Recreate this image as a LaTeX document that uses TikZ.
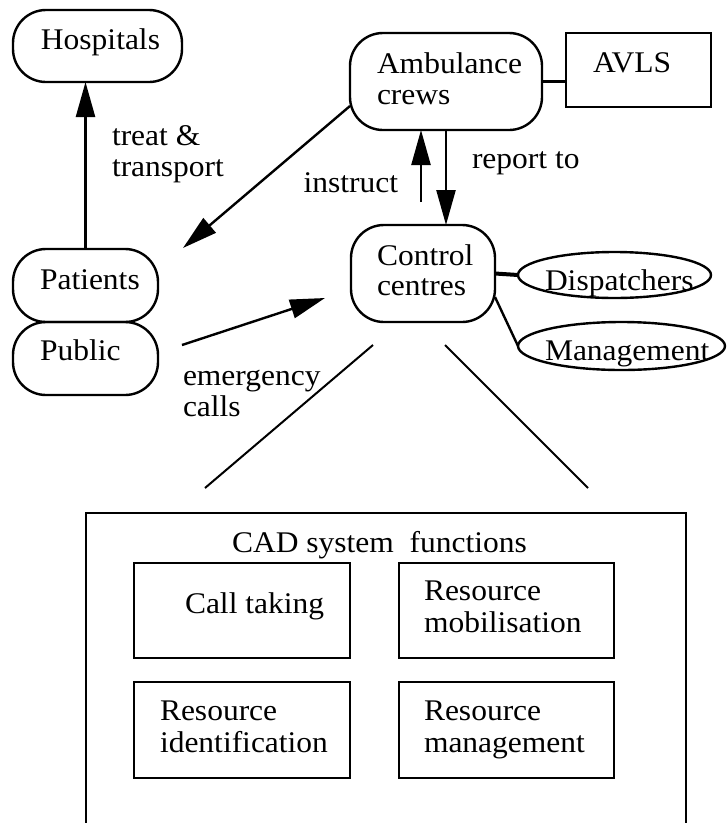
\documentclass[tikz,border=0pt]{standalone}
\usepackage{fontspec}
\setmainfont{Liberation Serif}[FakeStretch=1.05]
\usetikzlibrary{arrows.meta,shapes.geometric}
\begin{document}
\begin{tikzpicture}[x=1pt,y=-1pt,
  box/.style={draw, line width=2.4pt, inner sep=0pt, outer sep=0pt},
  pill/.style={box, rounded corners=33pt},
  oval/.style={box, ellipse},
  lbl/.style={inner sep=0pt, outer sep=0pt, anchor=base west,
    font=\fontsize{30pt}{32pt}\selectfont},
  lble/.style={lbl, anchor=base east},
  arr/.style={-{Triangle[length=35pt,width=19pt]}, line width=2.4pt},
  link/.style={line width=2.4pt},
  thin/.style={line width=2pt}]
\useasboundingbox (0,0) rectangle (727,823);

% actors and organisations
\node[pill, minimum width=169pt, minimum height=72pt] (hosp) at (97.5,46) {};
\node[pill, minimum width=192pt, minimum height=97pt] (amb) at (446,81.5) {};
\node[box, minimum width=145pt, minimum height=74pt] (avls) at (638.5,70) {};
\node[pill, minimum width=144pt, minimum height=97pt] (ctl) at (423,273.5) {};
\node[pill, minimum width=145pt, minimum height=73pt] (pat) at (85.5,285.5) {};
\node[pill, minimum width=145pt, minimum height=73pt] (pub) at (85.5,358.5) {};
\node[oval, minimum width=193pt, minimum height=46pt] (disp) at (614.5,275) {};
\node[oval, minimum width=207pt, minimum height=48pt] (mgmt) at (621.5,346) {};

% CAD system and its functions
\node[box, minimum width=600pt, minimum height=317pt] (cad) at (386,671.5) {};
\node[box, minimum width=216pt, minimum height=95pt] (calltk) at (242,610.5) {};
\node[box, minimum width=216pt, minimum height=96pt] (resid) at (242,730) {};
\node[box, minimum width=215pt, minimum height=95pt] (resmob) at (506.5,610.5) {};
\node[box, minimum width=215pt, minimum height=96pt] (resman) at (506.5,730) {};

% texts
\node[lbl] (tHosp) at (41,49) {Hospitals};
\node[lbl] (tAmb1) at (377,73) {Ambulance};
\node[lbl] (tAmb2) at (377,104) {crews};
\node[lbl] (tAvls) at (593,72) {AVLS};
\node[lbl] (tCtl1) at (377,265) {Control};
\node[lbl] (tCtl2) at (377,295) {centres};
\node[lbl] (tPat) at (40,289) {Patients};
\node[lbl] (tPub) at (40,360) {Public};
\node[lbl] (tDisp) at (545,290) {Dispatchers};
\node[lbl] (tMgmt) at (545,360) {Management};
\node[lbl] (tTreat1) at (112,145) {treat \&};
\node[lbl] (tTreat2) at (112,176) {transport};
\node[lbl] (tReport) at (472,168) {report to};
\node[lble] (tInstr) at (398,192) {instruct};
\node[lbl] (tEmerg1) at (183,385) {emergency};
\node[lbl] (tEmerg2) at (183,416) {calls};
\node[lbl] (tCad) at (232,552) {CAD system\ \ functions};
\node[lbl] (tCall) at (185,613) {Call taking};
\node[lbl] (tMob1) at (424,600) {Resource};
\node[lbl] (tMob2) at (424,632) {mobilisation};
\node[lbl] (tId1) at (160,720) {Resource};
\node[lbl] (tId2) at (160,752) {identification};
\node[lbl] (tMan1) at (424,720) {Resource};
\node[lbl] (tMan2) at (424,752) {management};

% free ends of connectors
\coordinate (patIn) at (183,248);
\coordinate (instrTail) at (421,202);
\coordinate (pubOut) at (182,345);
\coordinate (ctlIn) at (325,298);
\coordinate (zoomL) at (373,345);
\coordinate (zoomLend) at (205,488);
\coordinate (zoomR) at (445,345);
\coordinate (zoomRend) at (588,488);

% connectors
\draw[arr] (pat.north) -- (pat.north |- hosp.south);
\draw[arr] ([yshift=-24.5pt]amb.west) -- (patIn);
\draw[arr] (instrTail) -- ([xshift=-25pt]amb.south);
\draw[arr] (amb.south) -- (amb.south |- ctl.north);
\draw[arr] (pubOut) -- (ctlIn);
\draw[link] (amb.east) -- (amb.east -| avls.west);
\draw[line width=4pt] (ctl.east) -- (disp.west);
\draw[link] ([yshift=-23.5pt]ctl.east) -- (mgmt.west);
\draw[thin] (zoomL) -- (zoomLend);
\draw[thin] (zoomR) -- (zoomRend);
\end{tikzpicture}
\end{document}
